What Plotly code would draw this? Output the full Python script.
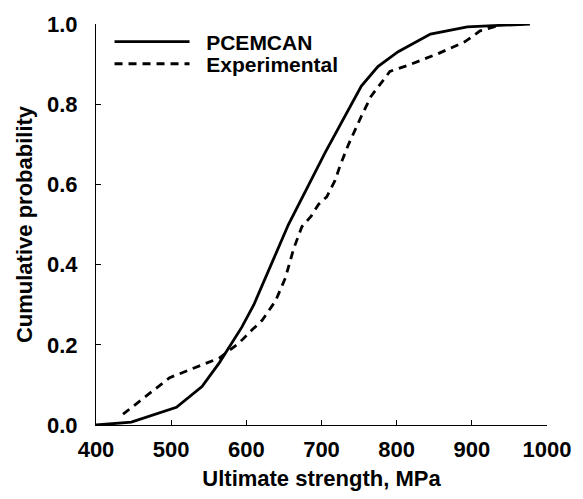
import plotly.graph_objects as go

# PCEMCAN (solid)
pc_x = [400, 447, 507, 541, 564, 594, 610, 656, 705, 753, 775, 802, 845, 894, 977]
pc_y = [0.0, 0.007, 0.044, 0.096, 0.155, 0.244, 0.30, 0.50, 0.68, 0.845, 0.894, 0.931, 0.975, 0.993, 1.0]

# Experimental (dashed)
ex_x = [436, 498, 564, 590, 607, 621, 639, 652, 663, 674, 686, 696, 707, 718, 725, 736, 753, 766, 779, 791, 815, 855, 891, 911, 943, 977]
ex_y = [0.027, 0.118, 0.167, 0.204, 0.236, 0.261, 0.31, 0.367, 0.44, 0.495, 0.52, 0.55, 0.569, 0.61, 0.648, 0.70, 0.77, 0.82, 0.852, 0.882, 0.897, 0.926, 0.956, 0.983, 1.0, 1.0]

x_ticks = [400, 500, 600, 700, 800, 900, 1000]
y_ticks = [0.0, 0.2, 0.4, 0.6, 0.8, 1.0]

FONT = "Liberation Sans, Arial, sans-serif"
FS = 22

fig = go.Figure()
fig.add_trace(go.Scatter(x=pc_x, y=pc_y, mode="lines", name="\u00a0\u00a0PCEMCAN",
                         line=dict(color="black", width=2.8), legend="legend"))
fig.add_trace(go.Scatter(x=ex_x, y=ex_y, mode="lines", name="\u00a0\u00a0Experimental",
                         line=dict(color="black", width=2.8, dash="8px,6px"), legend="legend2"))

leg_common = dict(xanchor="left", yanchor="middle", bgcolor="rgba(0,0,0,0)", itemwidth=75,
                  font=dict(family=FONT, size=21, color="black", weight="bold"))

fig.update_layout(
    width=583, height=499,
    margin=dict(l=96, r=33, t=20, b=73),
    paper_bgcolor="white", plot_bgcolor="white",
    font=dict(family=FONT, size=FS, color="black", weight="bold"),
    showlegend=True,
    legend=dict(x=0.03, y=0.955, **leg_common),
    legend2=dict(x=0.03, y=0.90, **leg_common),
    xaxis=dict(range=[400, 1000], tickvals=x_ticks, ticktext=[str(v) for v in x_ticks],
               showgrid=False, zeroline=False, showline=True, linecolor="black", linewidth=1.2,
               ticks="inside", ticklen=5, tickcolor="black", ticklabelstandoff=4,
               title=dict(text="Ultimate strength, MPa", standoff=10,
                          font=dict(family=FONT, size=FS, weight="bold")),
               tickfont=dict(family=FONT, size=FS, weight="bold")),
    yaxis=dict(range=[0, 1.0], tickvals=y_ticks, ticktext=[f"{v:.1f}" for v in y_ticks],
               showgrid=False, zeroline=False, showline=True, linecolor="black", linewidth=1.2,
               ticks="inside", ticklen=5, tickcolor="black", ticklabelstandoff=13,
               title=dict(text="Cumulative probability", standoff=8,
                          font=dict(family=FONT, size=FS, weight="bold")),
               tickfont=dict(family=FONT, size=FS, weight="bold")),
)

fig.write_html("out.html")
